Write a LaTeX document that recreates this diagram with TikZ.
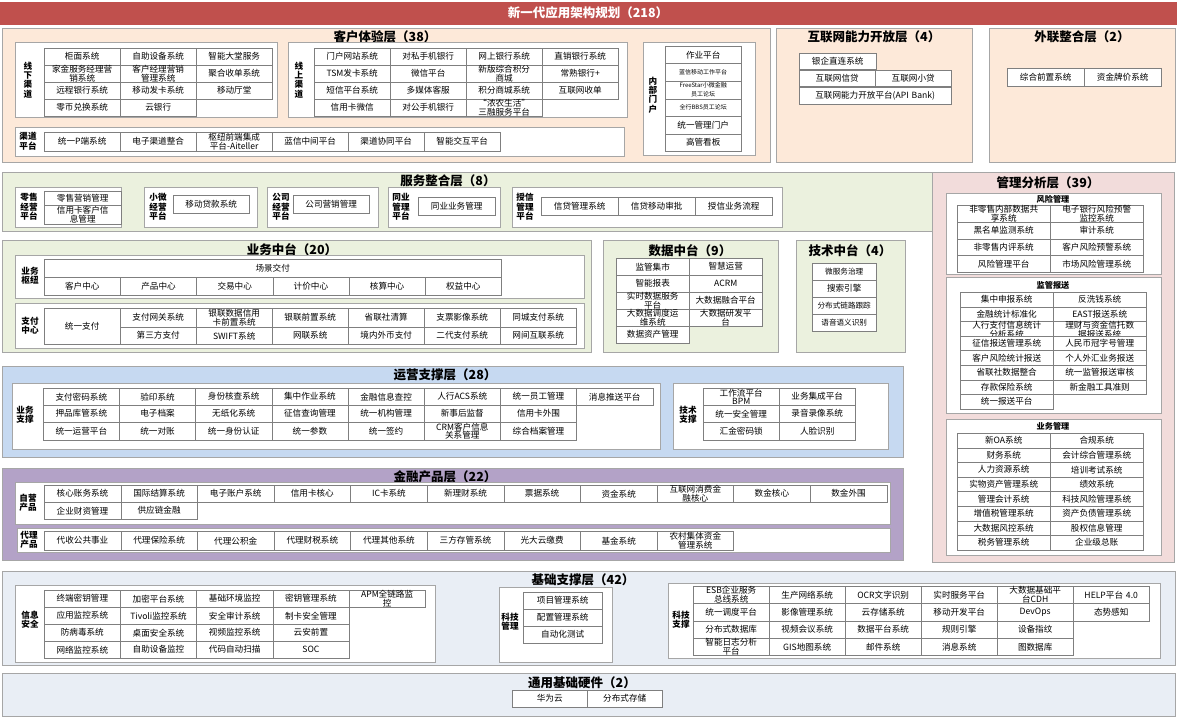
\documentclass[tikz,border=0pt]{standalone}
\usepackage{fontspec}
\setmainfont{Noto Sans CJK SC}
\usepackage{tikz}
\definecolor{barred}{HTML}{C0504D}
\definecolor{peach}{HTML}{FDE9D9}
\definecolor{sage}{HTML}{EBF1DE}
\definecolor{rose}{HTML}{F2DCDB}
\definecolor{sky}{HTML}{C6D9F1}
\definecolor{lilac}{HTML}{B3A2C7}
\definecolor{mist}{HTML}{E9EEF5}
\definecolor{layerline}{HTML}{A6A6A6}
\definecolor{cellline}{HTML}{7F7F7F}
\tikzset{
  cell/.style={draw=cellline, fill=white, inner sep=0pt, align=center, font=\fontsize{8.6}{8.6}\selectfont},
  layer/.style={draw=layerline, line width=0.8pt},
  grp/.style={draw=layerline, fill=white, line width=0.6pt},
  ttl/.style={font=\fontsize{12.5}{13}\selectfont\bfseries, inner sep=0pt},
  lab/.style={font=\fontsize{8.6}{9.4}\selectfont\bfseries, align=center, inner sep=0pt},
  hdr/.style={font=\fontsize{8.2}{9}\selectfont\bfseries, inner sep=0pt},
}
% x y w h prefix list
\newcommand\cellrow[6]{%
  \foreach \t [count=\i from 0] in {#6}{
    \node[cell, minimum width=#3pt, text width=#3pt, minimum height=#4pt, anchor=north west] (#5\i) at ({#1+\i*#3},#2) {\t};}}
% x y w h prefix list (downwards)
\newcommand\cellcol[6]{%
  \foreach \t [count=\i from 0] in {#6}{
    \node[cell, minimum width=#3pt, text width=#3pt, minimum height=#4pt, anchor=north west] (#5\i) at (#1,{#2+\i*#4}) {\t};}}

\begin{document}
\begin{tikzpicture}[x=1pt, y=-1pt]
\useasboundingbox (0,0) rectangle (1177,717);

% title bar
\fill[barred] (0,2) rectangle (1177,25);
\node[ttl, white] (main) at (588,13) {新一代应用架构规划（218）};

% customer experience
\filldraw[layer, fill=peach] (2,28) rectangle (770,162);
\node[ttl] (t-cx) at (385,37) {客户体验层（38）};
\filldraw[grp] (15,42) rectangle (277,117);
\node[lab] (l-off) at (28,80) {线\\下\\渠\\道};
\cellrow{44}{48}{76}{17}{off1}{柜面系统,自助设备系统,智能大堂服务}
\cellrow{44}{65}{76}{17}{off2}{家金服务经理营\\销系统,客户经理营销\\管理系统,聚合收单系统}
\cellrow{44}{82}{76}{17}{off3}{远程银行系统,移动发卡系统,移动厅堂}
\cellrow{44}{99}{76}{17}{off4}{零币兑换系统,云银行}
\filldraw[grp] (288,42) rectangle (627,117);
\node[lab] (l-on) at (299,80) {线\\上\\渠\\道};
\cellrow{314}{48}{76}{17}{on1}{门户网站系统,对私手机银行,网上银行系统,直销银行系统}
\cellrow{314}{65}{76}{17}{on2}{TSM发卡系统,微信平台,新版综合积分\\商城,常熟银行+}
\cellrow{314}{82}{76}{17}{on3}{短信平台系统,多媒体客服,积分商城系统,互联网收单}
\cellrow{314}{99}{76}{17}{on4}{信用卡微信,对公手机银行,“浓农生活”\\三融服务平台}
\filldraw[grp] (15,127) rectangle (624,156);
\node[lab] (l-ch) at (28,141) {渠道\\平台};
\cellrow{44}{132}{76}{19}{ch}{统一P端系统,电子渠道整合,枢纽前端集成\\平台-Aiteller,蓝信中间平台,渠道协同平台,智能交互平台}
\filldraw[grp] (643,42) rectangle (755,155);
\node[lab] (l-in) at (653,95) {内\\部\\门\\户};
\cellcol{665}{46}{76}{17.5}{in}{作业平台,{\fontsize{6}{6.5}\selectfont 蓝信移动工作平台},{\fontsize{6}{6.5}\selectfont FreeStar小微金融\\员工论坛},{\fontsize{6}{6.5}\selectfont 全行BBS员工论坛},统一管理门户,高管看板}

% internet capability
\filldraw[layer, fill=peach] (776,28) rectangle (972,162);
\node[ttl] (t-net) at (874,37) {互联网能力开放层（4）};
\cellrow{799}{53}{77}{16}{net1}{银企直连系统}
\cellrow{799}{70}{76}{16}{net2}{互联网信贷,互联网小贷}
\cellrow{799}{87}{152}{17}{net3}{互联网能力开放平台(API Bank)}

% external
\filldraw[layer, fill=peach] (989,28) rectangle (1175,162);
\node[ttl] (t-ext) at (1082,37) {外联整合层（2）};
\cellrow{1007}{68}{77}{18}{ext}{综合前置系统,资金牌价系统}

% service integration
\filldraw[layer, fill=sage] (2,172) rectangle (932,231);
\node[ttl] (t-srv) at (448,181) {服务整合层（8）};
\filldraw[grp] (15,187) rectangle (121,227);
\node[lab] (l-rt) at (29,207) {零售\\经营\\平台};
\cellrow{44}{191}{77}{14}{rt1}{零售营销管理}
\cellrow{44}{205}{77}{19}{rt2}{信用卡客户信\\息管理}
\filldraw[grp] (144,187) rectangle (257,227);
\node[lab] (l-sm) at (158,207) {小微\\经营\\平台};
\cellrow{173}{195}{76}{18}{sm}{移动贷款系统}
\filldraw[grp] (267,187) rectangle (378,227);
\node[lab] (l-co) at (281,207) {公司\\经营\\平台};
\cellrow{293}{195}{76}{18}{co}{公司营销管理}
\filldraw[grp] (388,187) rectangle (500,227);
\node[lab] (l-ib) at (401,207) {同业\\管理\\平台};
\cellrow{418}{197}{77}{18}{ib}{同业业务管理}
\filldraw[grp] (512,187) rectangle (782,227);
\node[lab] (l-cr) at (525,207) {授信\\管理\\平台};
\cellrow{541}{197}{77}{18}{cr}{信贷管理系统,信贷移动审批,授信业务流程}

% business middle platform
\filldraw[layer, fill=sage] (2,240) rectangle (591,352);
\node[ttl] (t-biz) at (292,250) {业务中台（20）};
\filldraw[grp] (15,255) rectangle (584,298);
\node[lab] (l-hub) at (30,276) {业务\\枢纽};
\cellrow{44}{259}{457}{18}{hub1}{场景交付}
\cellrow{44}{277}{76.2}{18}{hub2}{客户中心,产品中心,交易中心,计价中心,核算中心,权益中心}
\filldraw[grp] (15,303) rectangle (584,348);
\node[lab] (l-pay) at (30,326) {支付\\中心};
\cellrow{44}{308}{76}{36}{pay0}{统一支付}
\cellrow{120}{308}{76}{19}{pay1}{支付网关系统,银联数据信用\\卡前置系统,银联前置系统,省联社清算,支票影像系统,同城支付系统}
\cellrow{120}{327}{76}{17}{pay2}{第三方支付,SWIFT系统,网联系统,境内外币支付,二代支付系统,网间互联系统}

% data middle platform
\filldraw[layer, fill=sage] (603,240) rectangle (778,352);
\node[ttl] (t-dat) at (690,251) {数据中台（9）};
\cellrow{616}{258}{73}{17}{dat1}{监管集市,智慧运营}
\cellrow{616}{275}{73}{17}{dat2}{智能报表,ACRM}
\cellrow{616}{292}{73}{17}{dat3}{实时数据服务\\平台,大数据融合平台}
\cellrow{616}{309}{73}{17}{dat4}{大数据调度运\\维系统,大数据研发平\\台}
\cellrow{616}{326}{73}{17}{dat5}{数据资产管理}

% tech middle platform
\filldraw[layer, fill=sage] (796,240) rectangle (905,352);
\node[ttl] (t-tec) at (850,251) {技术中台（4）};
\cellcol{812}{263}{64}{17}{tec}{{\fontsize{7.6}{8}\selectfont 微服务治理},搜索引擎,{\fontsize{7.6}{8}\selectfont 分布式链路跟踪},{\fontsize{7.6}{8}\selectfont 语音语义识别}}

% management analysis
\filldraw[layer, fill=rose] (932,172) rectangle (1174,562);
\node[ttl] (t-mgt) at (1048,183) {管理分析层（39）};
\filldraw[grp] (946,193) rectangle (1161,274);
\node[hdr] (h-risk) at (1053,199) {风险管理};
\cellrow{957}{205}{93}{16.75}{risk1}{非零售内部数据共\\享系统,电子银行风险预警\\监控系统}
\cellrow{957}{221.75}{93}{16.75}{risk2}{黑名单监测系统,审计系统}
\cellrow{957}{238.5}{93}{16.75}{risk3}{非零售内评系统,客户风险预警系统}
\cellrow{957}{255.25}{93}{16.75}{risk4}{风险管理平台,市场风险管理系统}
\filldraw[grp] (946,277) rectangle (1161,413);
\node[hdr] (h-reg) at (1053,285) {监管报送};
\cellrow{960}{292}{93}{14.6}{reg1}{集中申报系统,反洗钱系统}
\cellrow{960}{306.6}{93}{14.6}{reg2}{金融统计标准化,EAST报送系统}
\cellrow{960}{321.2}{93}{14.6}{reg3}{人行支付信息统计\\分析系统,理财与资金信托数\\据报送系统}
\cellrow{960}{335.8}{93}{14.6}{reg4}{征信报送管理系统,人民币冠字号管理}
\cellrow{960}{350.4}{93}{14.6}{reg5}{客户风险统计报送,个人外汇业务报送}
\cellrow{960}{365}{93}{14.6}{reg6}{省联社数据整合,统一监管报送审核}
\cellrow{960}{379.6}{93}{14.6}{reg7}{存款保险系统,新金融工具准则}
\cellrow{960}{394.2}{93}{14.6}{reg8}{统一报送平台}
\filldraw[grp] (946,419) rectangle (1161,555);
\node[hdr] (h-bm) at (1053,426) {业务管理};
\cellrow{957}{433}{93}{14.6}{bm1}{新OA系统,合规系统}
\cellrow{957}{447.6}{93}{14.6}{bm2}{财务系统,会计综合管理系统}
\cellrow{957}{462.2}{93}{14.6}{bm3}{人力资源系统,培训考试系统}
\cellrow{957}{476.8}{93}{14.6}{bm4}{实物资产管理系统,绩效系统}
\cellrow{957}{491.4}{93}{14.6}{bm5}{管理会计系统,科技风险管理系统}
\cellrow{957}{506}{93}{14.6}{bm6}{增值税管理系统,资产负债管理系统}
\cellrow{957}{520.6}{93}{14.6}{bm7}{大数据风控系统,股权信息管理}
\cellrow{957}{535.2}{93}{14.6}{bm8}{税务管理系统,企业级总账}

% operation support
\filldraw[layer, fill=sky] (2,366) rectangle (903,457);
\node[ttl] (t-ops) at (445,375) {运营支撑层（28）};
\filldraw[grp] (12,383) rectangle (660,449);
\node[lab] (l-ops) at (25,415) {业务\\支撑};
\cellrow{43}{388}{76.2}{17}{ops1}{支付密码系统,验印系统,身份核查系统,集中作业系统,金融信息查控,人行ACS系统,统一员工管理,消息推送平台}
\cellrow{43}{405}{76.2}{17}{ops2}{押品库管系统,电子档案,无纸化系统,征信查询管理,统一机构管理,新事后监督,信用卡外围}
\cellrow{43}{422}{76.2}{18}{ops3}{统一运营平台,统一对账,统一身份认证,统一参数,统一签约,CRM客户信息\\关系管理,综合档案管理}
\filldraw[grp] (673,383) rectangle (888,449);
\node[lab] (l-ots) at (688,415) {技术\\支撑};
\cellrow{703}{388}{76}{17}{ots1}{工作流平台\\BPM,业务集成平台}
\cellrow{703}{405}{76}{17}{ots2}{统一安全管理,录音录像系统}
\cellrow{703}{422}{76}{18}{ots3}{汇金密码锁,人脸识别}

% financial products
\filldraw[layer, fill=lilac] (2,468) rectangle (903,560);
\node[ttl] (t-fin) at (445,477) {金融产品层（22）};
\filldraw[grp] (15,482) rectangle (890,524);
\node[lab] (l-own) at (28,503) {自营\\产品};
\cellrow{44}{485}{76.6}{17}{own1}{核心账务系统,国际结算系统,电子账户系统,信用卡核心,IC卡系统,新理财系统,票据系统,资金系统,互联网消费金\\融核心,数金核心,数金外围}
\cellrow{44}{502}{76.6}{17}{own2}{企业财资管理,供应链金融}
\filldraw[grp] (17,528) rectangle (890,552);
\node[lab] (l-agt) at (29,540) {代理\\产品};
\cellrow{44}{531}{76.6}{19}{agt}{代收公共事业,代理保险系统,代理公积金,代理财税系统,代理其他系统,三方存管系统,光大云缴费,基金系统,农村集体资金\\管理系统}

% foundation support
\filldraw[layer, fill=mist] (2,571) rectangle (1175,665);
\node[ttl] (t-fnd) at (583,580) {基础支撑层（42）};
\filldraw[grp] (15,585) rectangle (435,662);
\node[lab] (l-sec) at (30,620) {信息\\安全};
\cellrow{44}{590}{76.2}{17}{sec1}{终端密钥管理,加密平台系统,基础环境监控,密钥管理系统,APM全链路监\\控}
\cellrow{44}{607}{76.2}{17}{sec2}{应用监控系统,Tivoli监控系统,安全审计系统,制卡安全管理}
\cellrow{44}{624}{76.2}{17}{sec3}{防病毒系统,桌面安全系统,视频监控系统,云安前置}
\cellrow{44}{641}{76.2}{17}{sec4}{网络监控系统,自助设备监控,代码自动扫描,SOC}
\filldraw[grp] (499,587) rectangle (612,662);
\node[lab] (l-tm) at (510,622) {科技\\管理};
\cellcol{523}{592}{79}{17}{tm}{项目管理系统,配置管理系统,自动化测试}
\filldraw[grp] (668,583) rectangle (1160,658);
\node[lab] (l-ts) at (681,620) {科技\\支撑};
\cellrow{693}{586}{76}{17.3}{ts1}{ESB企业服务\\总线系统,生产网络系统,OCR文字识别,实时服务平台,大数据基础平\\台CDH,HELP平台 4.0}
\cellrow{693}{603.3}{76}{17.3}{ts2}{统一调度平台,影像管理系统,云存储系统,移动开发平台,DevOps,态势感知}
\cellrow{693}{620.6}{76}{17.3}{ts3}{分布式数据库,视频会议系统,数据平台系统,规则引擎,设备指纹}
\cellrow{693}{637.9}{76}{17.3}{ts4}{智能日志分析\\平台,GIS地图系统,邮件系统,消息系统,图数据库}

% general hardware
\filldraw[layer, fill=mist] (2,673) rectangle (1175,716);
\node[ttl] (t-hw) at (582,683) {通用基础硬件（2）};
\cellrow{512}{690}{75}{17}{hw}{华为云,分布式存储}

\end{tikzpicture}
\end{document}
